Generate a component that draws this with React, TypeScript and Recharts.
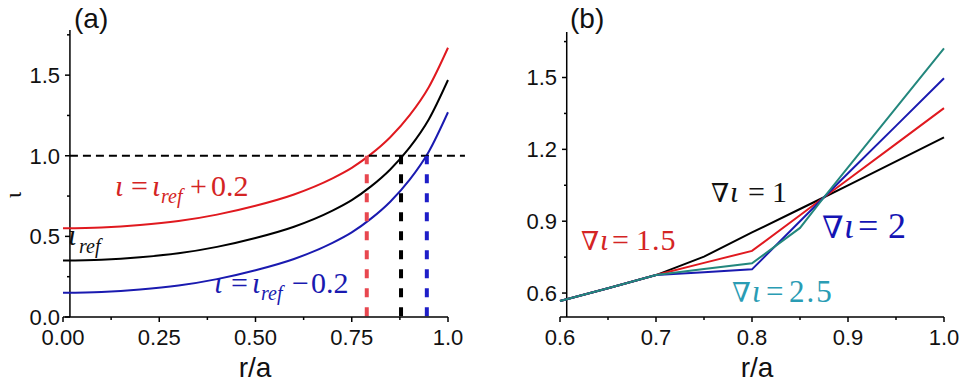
import React from 'react';
import { LineChart, Line, XAxis, YAxis, ReferenceLine, Customized } from 'recharts';

// panel (a): iota profiles vs r/a
const rA = [0, 0.1, 0.2, 0.3, 0.4, 0.5, 0.6, 0.7, 0.75, 0.8, 0.85, 0.9, 0.95, 1.0];
const iotaRef = [0.35, 0.355, 0.37, 0.395, 0.435, 0.49, 0.56, 0.66, 0.725, 0.81, 0.915, 1.05, 1.225, 1.47];
const iotaPlus = [0.55, 0.555, 0.57, 0.595, 0.635, 0.69, 0.76, 0.86, 0.925, 1.01, 1.115, 1.25, 1.425, 1.67];
const iotaMinus = [0.15, 0.155, 0.17, 0.195, 0.235, 0.29, 0.36, 0.46, 0.525, 0.61, 0.715, 0.85, 1.025, 1.27];
const crossR = [0.789, 0.878, 0.945];
const crossColors = ['#e8474f', '#000000', '#1e1ec8'];
const xTicksA = [0, 0.125, 0.25, 0.375, 0.5, 0.625, 0.75, 0.875, 1.0];
const yTicksA = [0, 0.25, 0.5, 0.75, 1.0, 1.25, 1.5, 1.75];

// panel (b): gradient variants
const rB = [0.6, 0.65, 0.7, 0.75, 0.8, 0.85, 0.875, 0.9, 0.95, 1.0];
const grad1 = [0.567, 0.62, 0.675, 0.752, 0.853, 0.951, 1.0, 1.05, 1.15, 1.25];
const grad15 = [0.567, 0.62, 0.675, 0.726, 0.776, 0.925, 1.0, 1.074, 1.223, 1.372];
const grad2 = [0.567, 0.62, 0.675, 0.687, 0.699, 0.9, 1.0, 1.1, 1.298, 1.497];
const grad25 = [0.567, 0.62, 0.675, 0.7, 0.724, 0.872, 1.0, 1.125, 1.373, 1.622];
const xTicksB = [0.6, 0.65, 0.7, 0.75, 0.8, 0.85, 0.9, 0.95, 1.0];
const yTicksB = [0.6, 0.75, 0.9, 1.05, 1.2, 1.35, 1.5, 1.65];

const dataA = rA.map((r, i) => ({ r, ref: iotaRef[i], plus: iotaPlus[i], minus: iotaMinus[i] }));
const dataB = rB.map((r, i) => ({ r, g1: grad1[i], g15: grad15[i], g2: grad2[i], g25: grad25[i] }));

const SANS = '"Liberation Sans", Arial, sans-serif';
const SERIF = '"Liberation Serif", "Times New Roman", serif';
const NABLA = '"DejaVu Serif", serif';
const AXIS_SHIFT = 7; // y axis line sits a few px right of the first x value

const RED = '#e0191f';
const BLUE = '#1a1ab0';
const TEAL = '#23877d';

const XTick = (props: any) => {
  const { x, y, index, payload, fmt } = props;
  const major = index % 2 === 0;
  return (
    <g>
      <line x1={x} x2={x} y1={y} y2={y + (major ? 5 : 3)} stroke="#000" strokeWidth={1.5} />
      {major && (
        <text x={x} y={y + 28} textAnchor="middle" fontSize={22} fontFamily={SANS} fill="#111">
          {fmt(payload.value)}
        </text>
      )}
    </g>
  );
};

const YTick = (props: any) => {
  const { x, y, index, payload } = props;
  const major = index % 2 === 0;
  const ax = x + AXIS_SHIFT;
  return (
    <g>
      <line x1={ax - (major ? 5 : 3)} x2={ax} y1={y} y2={y} stroke="#000" strokeWidth={1.5} />
      {major && (
        <text x={ax - 10} y={y} dy="0.36em" textAnchor="end" fontSize={22} fontFamily={SANS} fill="#111">
          {payload.value.toFixed(1)}
        </text>
      )}
    </g>
  );
};

const fmtA = (v: number) => (v === 1 ? '1.0' : v.toFixed(2));
const fmtB = (v: number) => v.toFixed(1);

const LabelsA = () => (
  <g>
    <text x={74} y={28} fontSize={28} fontFamily={SANS} fill="#111">(a)</text>
    <text transform="translate(21,195) rotate(-90)" textAnchor="middle" fontSize={24} fontFamily={SERIF} fill="#111">ι</text>
    <text x={255} y={377} textAnchor="middle" fontSize={28} fontFamily={SANS} fill="#111">r/a</text>
    <text y={196} fontSize={30} fontFamily={SERIF} fill="#d42424">
      <tspan x={115} fontStyle="italic">ι</tspan>
      <tspan x={131}>=</tspan>
      <tspan x={152} fontStyle="italic">ι</tspan>
      <tspan x={161} dy={7} fontSize={20} fontStyle="italic">ref</tspan>
      <tspan x={190} dy={-7}>+</tspan>
      <tspan x={211}>0.2</tspan>
    </text>
    <text y={245} fontSize={30} fontFamily={SERIF} fill="#111">
      <tspan x={68} fontStyle="italic">ι</tspan>
      <tspan x={79} dy={8} fontSize={20} fontStyle="italic">ref</tspan>
    </text>
    <text y={293} fontSize={30} fontFamily={SERIF} fill={BLUE}>
      <tspan x={214} fontStyle="italic">ι</tspan>
      <tspan x={231}>=</tspan>
      <tspan x={252} fontStyle="italic">ι</tspan>
      <tspan x={261} dy={7} fontSize={20} fontStyle="italic">ref</tspan>
      <tspan x={292} dy={-7}>−</tspan>
      <tspan x={311}>0.2</tspan>
    </text>
  </g>
);

// panel (b) chart starts at page x = 483
const LabelsB = () => (
  <g>
    <text x={87} y={28} fontSize={28} fontFamily={SANS} fill="#111">(b)</text>
    <text x={274} y={377} textAnchor="middle" fontSize={28} fontFamily={SANS} fill="#111">r/a</text>
    <text y={202} fontSize={30} fontFamily={SERIF} fill="#111">
      <tspan x={228} fontFamily={NABLA} fontSize={26}>∇</tspan>
      <tspan x={247} fontStyle="italic">ι</tspan>
      <tspan x={265}>=</tspan>
      <tspan x={289}>1</tspan>
    </text>
    <text y={250} fontSize={30} fontFamily={SERIF} fill="#d42424">
      <tspan x={98} fontFamily={NABLA} fontSize={26}>∇</tspan>
      <tspan x={117} fontStyle="italic">ι</tspan>
      <tspan x={129}>=</tspan>
      <tspan x={153} letterSpacing={1}>1.5</tspan>
    </text>
    <text y={238} fontSize={36} fontFamily={SERIF} fill="#1414b4">
      <tspan x={339} fontFamily={NABLA} fontSize={31}>∇</tspan>
      <tspan x={361} fontStyle="italic">ι</tspan>
      <tspan x={375}>=</tspan>
      <tspan x={405}>2</tspan>
    </text>
    <text y={302} fontSize={31} fontFamily={SERIF} fill="#2a9cb4">
      <tspan x={249} fontFamily={NABLA} fontSize={27}>∇</tspan>
      <tspan x={269} fontStyle="italic">ι</tspan>
      <tspan x={283}>=</tspan>
      <tspan x={306} letterSpacing={2}>2.5</tspan>
    </text>
  </g>
);

export default function App() {
  return (
    <div style={{ position: 'absolute', left: 0, top: 0, width: 966, height: 384, background: '#fff', display: 'flex' }}>
      <LineChart width={483} height={384} data={dataA} margin={{ top: 30, left: 3, right: 35, bottom: 0 }}>
        <XAxis
          dataKey="r"
          type="number"
          domain={[0, 1]}
          ticks={xTicksA}
          interval={0}
          height={67}
          tickSize={0}
          tickMargin={0}
          tickLine={false}
          axisLine={{ stroke: '#000', strokeWidth: 1.5 }}
          tick={(p: any) => <XTick {...p} fmt={fmtA} />}
        />
        <YAxis
          type="number"
          domain={[0, 1.78]}
          ticks={yTicksA}
          interval={0}
          width={60}
          tickSize={0}
          tickMargin={0}
          tickLine={false}
          axisLine={false}
          tick={(p: any) => <YTick {...p} />}
        />
        <ReferenceLine x={0.018} stroke="#000" strokeWidth={1.5} />
        <Line dataKey="plus" type="monotone" stroke={RED} strokeWidth={2} dot={false} isAnimationActive={false} />
        <Line dataKey="ref" type="monotone" stroke="#000" strokeWidth={2} dot={false} isAnimationActive={false} />
        <Line dataKey="minus" type="monotone" stroke={BLUE} strokeWidth={2} dot={false} isAnimationActive={false} />
        <ReferenceLine
          segment={[{ x: 0.018, y: 1 }, { x: 1.044, y: 1 }]}
          ifOverflow="visible"
          stroke="#000"
          strokeWidth={2}
          strokeDasharray="8 5"
        />
        {crossR.map((r, i) => (
          <ReferenceLine
            key={r}
            segment={[{ x: r, y: 0.005 }, { x: r, y: 1 }]}
            ifOverflow="visible"
            stroke={crossColors[i]}
            strokeWidth={4}
            strokeDasharray="9 10"
          />
        ))}
        <Customized component={LabelsA} />
      </LineChart>
      <LineChart width={483} height={384} data={dataB} margin={{ top: 32, left: 17, right: 22, bottom: 0 }}>
        <XAxis
          dataKey="r"
          type="number"
          domain={[0.6, 1.0]}
          ticks={xTicksB}
          interval={0}
          height={67}
          tickSize={0}
          tickMargin={0}
          tickLine={false}
          axisLine={{ stroke: '#000', strokeWidth: 1.5 }}
          tick={(p: any) => <XTick {...p} fmt={fmtB} />}
        />
        <YAxis
          type="number"
          domain={[0.5, 1.69]}
          ticks={yTicksB}
          interval={0}
          width={60}
          tickSize={0}
          tickMargin={0}
          tickLine={false}
          axisLine={false}
          tick={(p: any) => <YTick {...p} />}
        />
        <ReferenceLine x={0.607} stroke="#000" strokeWidth={1.5} />
        <Line dataKey="g1" type="linear" stroke="#000" strokeWidth={2} dot={false} isAnimationActive={false} />
        <Line dataKey="g15" type="linear" stroke={RED} strokeWidth={2} dot={false} isAnimationActive={false} />
        <Line dataKey="g2" type="linear" stroke={BLUE} strokeWidth={2} dot={false} isAnimationActive={false} />
        <Line dataKey="g25" type="linear" stroke={TEAL} strokeWidth={2} dot={false} isAnimationActive={false} />
        <Customized component={LabelsB} />
      </LineChart>
    </div>
  );
}
